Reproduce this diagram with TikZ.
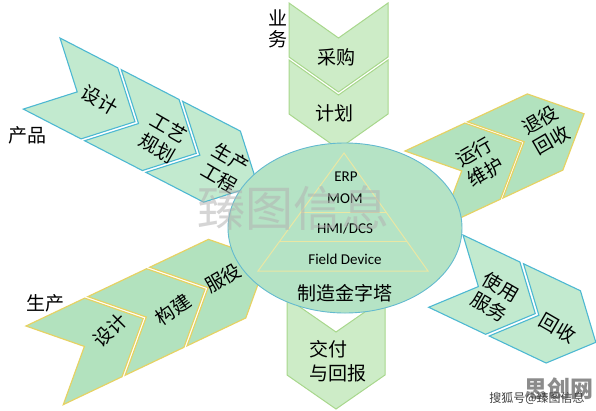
\documentclass[tikz,border=0pt]{standalone}
\usepackage{fontspec}
\setmainfont{Carlito}
\newfontfamily\cjk{Noto Sans CJK SC}
\usepackage{xcolor}
\usetikzlibrary{calc}
\definecolor{sky}{HTML}{4DB8D2}
\definecolor{straw}{HTML}{E6D264}
\definecolor{stem}{HTML}{A8D78C}
\definecolor{sage}{HTML}{C2EACF}
\definecolor{fern}{HTML}{B2E2BE}
\definecolor{pale}{HTML}{CDECC7}
\definecolor{mint}{HTML}{B5E3C5}
\definecolor{rim}{HTML}{63BACF}
\definecolor{tri}{HTML}{EAE7A4}
\tikzset{
	bluechev/.style={draw=sky, fill=sage, line width=1.1pt},
	goldchev/.style={draw=straw, fill=fern, line width=1.2pt},
	greenchev/.style={draw=stem, fill=pale, line width=1pt},
	core/.style={draw=rim, fill=mint, line width=0.9pt},
	tiers/.style={draw=tri, line width=1pt},
	lbl/.style={font=\cjk\fontsize{19}{23}\selectfont, align=center, inner sep=0pt},
	lat/.style={font=\fontsize{15}{15}\selectfont, inner sep=0pt},
}
\newcommand{\chevron}[5]{\draw[#1] (#2,0) -- ++(#3,0) -- ++(#4,{#5/2}) -- ++(-#4,{#5/2}) -- ++(-#3,0) -- ++(#4,{-#5/2}) -- cycle;}

\begin{document}
\begin{tikzpicture}[x=1pt, y=-1pt]
	\useasboundingbox (0,0) rectangle (596,410);
	\begin{scope}[shift={(388,3)}, rotate=-90]
		\foreach \s in {0,57} {\chevron{greenchev}{\s}{54}{35}{99}}
	\end{scope}
	\begin{scope}[shift={(385,298)}, rotate=-90]
		\chevron{greenchev}{0}{77}{34}{98}
	\end{scope}
	\begin{scope}[shift={(60,38)}, rotate=-27.3]
		\foreach \s in {0,69,138} {\chevron{bluechev}{\s}{65}{40}{80}}
	\end{scope}
	\begin{scope}[shift={(26,326)}, rotate=25.4]
		\foreach \s in {0,68.5,137} {\chevron{goldchev}{\s}{65}{44}{87}}
	\end{scope}
	\begin{scope}[shift={(405,151)}, rotate=25]
		\foreach \s in {0,69} {\chevron{goldchev}{\s}{66}{43}{84}}
	\end{scope}
	\begin{scope}[shift={(463,235)}, rotate=-25.4]
		\foreach \s in {0,67} {\chevron{bluechev}{\s}{63}{36}{80}}
	\end{scope}
	\coordinate (hub) at (345,228);
	\draw[core] (hub) ellipse [x radius=117, y radius=85];
	\coordinate (pyt) at (344,153);
	\coordinate (pyl) at (258,271);
	\coordinate (pyr) at (428,271);
	\draw[tiers] (pyt) -- (pyl) -- (pyr) -- cycle;
	\draw[tiers] ($(pyt)!0.5!(pyl)$) -- ($(pyt)!0.5!(pyr)$);
	\draw[tiers] ($(pyt)!0.754!(pyl)$) -- ($(pyt)!0.754!(pyr)$);
	\node[lat] (erp) at (346,177) {ERP};
	\node[lat] (mom) at (345,199) {MOM};
	\node[lat] (hmi) at (345,229) {HMI/DCS};
	\node[lat] (field) at (345,259) {Field Device};
	\node[lbl] (pyramid) at (345,293) {制造金字塔};
	\node[lbl, font=\cjk\fontsize{19}{21}\selectfont] (biz) at (278,29) {业\\务};
	\node[lbl] (buy) at (336,57) {采购};
	\node[lbl] (plan) at (334,113) {计划};
	\node[lbl, font=\cjk\fontsize{19}{24}\selectfont, align=left, anchor=west] (deliver) at (309,361) {交付\\与回报};
	\node[lbl] (product) at (28,135) {产品};
	\node[lbl, rotate=-30] (pdesign) at (100,100) {设计};
	\node[lbl, rotate=-30] (process) at (163,138) {工艺\\规划};
	\node[lbl, rotate=-30] (engineer) at (225,168) {生产\\工程};
	\node[lbl] (prod) at (45,303) {生产};
	\node[lbl, rotate=45] (mdesign) at (110,330) {设计};
	\node[lbl, rotate=35] (build) at (173,310) {构建};
	\node[lbl, rotate=30] (serve) at (223,278) {服役};
	\node[lbl, rotate=30] (operate) at (480,162) {运行\\维护};
	\node[lbl, rotate=30] (retire) at (546,130) {退役\\回收};
	\node[lbl, rotate=-30] (use) at (495,297) {使用\\服务};
	\node[lbl, rotate=-30] (recycle) at (558,328) {回收};
	\node[font=\cjk\fontsize{48}{48}\selectfont, text=black!30, opacity=0.55, inner sep=0pt] (mark) at (293,208) {臻图信息};
	\node[font=\cjk\bfseries\fontsize{23}{23}\selectfont, text=black!45, inner sep=0pt] (site) at (559,389) {思创网};
	\node[font=\cjk\fontsize{12}{12}\selectfont, text=black!75, inner sep=0pt] (sohu) at (537,398) {搜狐号@臻图信息};
\end{tikzpicture}
\end{document}
